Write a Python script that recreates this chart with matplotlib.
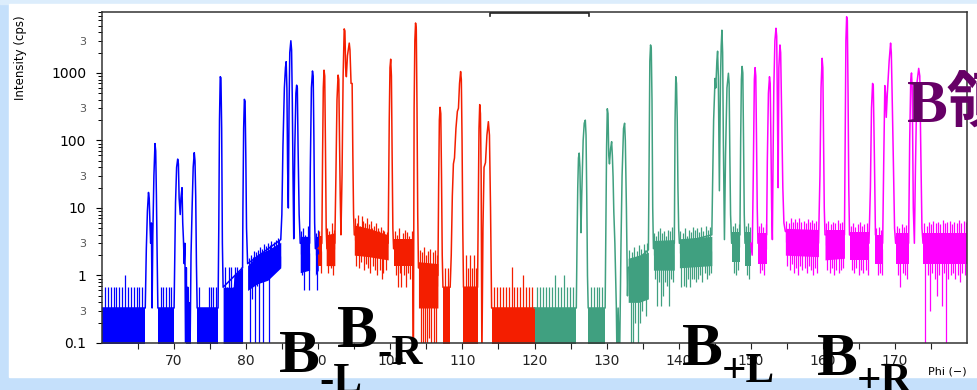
import matplotlib
matplotlib.use("Agg")
import matplotlib.pyplot as plt
from matplotlib.ticker import FixedLocator, FuncFormatter, LogLocator
from matplotlib.patches import Rectangle
from matplotlib.lines import Line2D
import numpy as np

W, H = 978, 390   # output size in pixels

# ---- data: (phi, cps) vertices of the peak traces ----
blue_trace = [
    (60.0, 0.33), (66.0, 0.33), (66.15, 2.5), (66.3, 9), (66.45, 17), (66.55, 14), (66.65, 6), (66.75, 3),
    (66.85, 6), (66.95, 0.33), (67.05, 4), (67.2, 30), (67.35, 90), (67.45, 70), (67.55, 15), (67.65, 2),
    (67.75, 0.33), (70.0, 0.33), (70.1, 2), (70.2, 12), (70.35, 40), (70.5, 53), (70.6, 45), (70.7, 14),
    (70.85, 8), (70.95, 14), (71.1, 20), (71.2, 6), (71.3, 3.4), (71.4, 1.5), (71.5, 3), (71.6, 0.05),
    (71.7, 1.3), (71.8, 0.05), (71.9, 0.67), (72.0, 0.05), (72.2, 0.05), (72.35, 2), (72.5, 10), (72.65, 40),
    (72.8, 66), (72.9, 50), (73.0, 15), (73.1, 1.5), (73.2, 0.33), (76.1, 0.33), (76.2, 5), (76.3, 200),
    (76.4, 880), (76.5, 850), (76.6, 150), (76.7, 3), (76.8, 0.67), (79.5, 1.3), (79.55, 10), (79.65, 150),
    (79.75, 407), (79.85, 380), (79.95, 60), (80.05, 5), (80.2, 1.5), (84.8, 3.4), (84.95, 8), (85.1, 80),
    (85.3, 600), (85.45, 1200), (85.55, 1470), (85.65, 600), (85.75, 40), (85.85, 10), (85.95, 300),
    (86.05, 2000), (86.2, 3000), (86.3, 2200), (86.4, 400), (86.5, 30), (86.6, 3.5), (86.75, 80), (86.9, 500),
    (87.0, 660), (87.1, 600), (87.2, 80), (87.35, 8), (87.5, 3), (88.8, 3), (88.9, 40), (89.05, 600),
    (89.2, 1070), (89.3, 900), (89.4, 100), (89.5, 6), (89.6, 2.5), (90.0, 2.5),
]
red_trace = [
    (90.0, 2.5), (90.5, 3), (90.6, 60), (90.7, 600), (90.8, 1100), (90.9, 900), (91.0, 80), (91.1, 5),
    (91.2, 2.5), (92.3, 3), (92.45, 30), (92.6, 400), (92.75, 930), (92.85, 800), (92.95, 100), (93.05, 15),
    (93.15, 4), (93.3, 30), (93.45, 900), (93.6, 4500), (93.7, 4200), (93.8, 1200), (93.9, 880), (94.05, 1800),
    (94.3, 2770), (94.4, 2200), (94.55, 700), (94.7, 700), (94.8, 60), (94.9, 8), (95.0, 4), (99.7, 3),
    (99.85, 200), (99.95, 1200), (100.05, 1600), (100.15, 900), (100.25, 60), (100.35, 5), (100.45, 2.5),
    (103.1, 2), (103.2, 0.05), (103.3, 300), (103.4, 3000), (103.5, 5500), (103.6, 4500), (103.7, 300),
    (103.8, 8), (103.9, 1.3), (106.6, 1.0), (106.7, 20), (106.8, 200), (106.9, 310), (107.0, 250),
    (107.1, 30), (107.2, 2), (107.3, 0.67), (108.3, 0.67), (108.45, 2), (108.6, 15), (108.75, 45),
    (108.9, 55), (109.1, 150), (109.3, 270), (109.45, 300), (109.6, 700), (109.75, 1050), (109.85, 800),
    (109.95, 100), (110.05, 5), (110.15, 0.67), (112.1, 0.67), (112.2, 10), (112.3, 150), (112.4, 340),
    (112.5, 250), (112.6, 30), (112.7, 0.05), (112.85, 5), (113.0, 40), (113.2, 47), (113.4, 120),
    (113.6, 190), (113.75, 120), (113.9, 10), (114.05, 0.33), (120.0, 0.33),
]
teal_trace = [
    (120.0, 0.33), (125.8, 0.33), (125.9, 3), (126.0, 20), (126.1, 55), (126.2, 65), (126.3, 40),
    (126.45, 4.3), (126.55, 15), (126.75, 100), (126.9, 180), (127.05, 200), (127.15, 120), (127.25, 15),
    (127.35, 1), (127.45, 0.33), (129.8, 0.33), (129.9, 5), (130.0, 80), (130.1, 295), (130.2, 250),
    (130.3, 60), (130.4, 45), (130.55, 75), (130.7, 96), (130.8, 60), (130.9, 29), (131.0, 9), (131.15, 3),
    (131.35, 0.35), (131.45, 0.05), (131.6, 0.33), (131.8, 0.05), (132.0, 3), (132.15, 30), (132.35, 150),
    (132.5, 180), (132.6, 100), (132.75, 10), (132.9, 0.5), (133.0, 1.3), (135.8, 2.4), (135.9, 50),
    (136.0, 1500), (136.1, 2600), (136.2, 2300), (136.3, 400), (136.4, 10), (136.5, 2.5), (139.4, 3),
    (139.5, 200), (139.6, 880), (139.7, 700), (139.8, 200), (139.9, 20), (140.0, 5), (140.1, 3), (144.6, 4),
    (144.7, 20), (144.85, 200), (145.05, 830), (145.15, 600), (145.3, 1500), (145.4, 2100), (145.5, 900),
    (145.65, 18), (145.8, 800), (145.9, 2500), (146.0, 4300), (146.1, 2000), (146.2, 100), (146.35, 3.4),
    (146.5, 60), (146.7, 600), (146.9, 990), (147.0, 700), (147.1, 60), (147.2, 8), (147.35, 3), (148.5, 4),
    (148.6, 100), (148.7, 800), (148.8, 1250), (148.9, 1000), (149.0, 100), (149.1, 8), (149.2, 3), (150.0, 3),
]
magenta_trace = [
    (150.0, 3), (150.2, 2), (150.35, 30), (150.5, 800), (150.6, 1200), (150.7, 900), (150.8, 100),
    (150.9, 10), (151.0, 3), (152.2, 4), (152.3, 50), (152.45, 500), (152.6, 880), (152.7, 700), (152.8, 100),
    (152.9, 10), (153.0, 3.4), (153.1, 60), (153.2, 600), (153.35, 3000), (153.5, 4600), (153.6, 3500),
    (153.7, 300), (153.8, 20), (153.9, 1200), (154.05, 2600), (154.15, 2000), (154.3, 200), (154.45, 20),
    (154.6, 6), (154.8, 4.5), (159.4, 3), (159.6, 30), (159.75, 600), (159.9, 1650), (160.0, 1200),
    (160.1, 100), (160.2, 10), (160.3, 4), (163.0, 4), (163.1, 100), (163.2, 3000), (163.3, 6800),
    (163.4, 6000), (163.5, 500), (163.6, 20), (163.7, 4), (166.4, 3), (166.6, 20), (166.75, 300), (166.9, 700),
    (167.0, 650), (167.15, 60), (167.3, 4), (168.3, 3), (168.45, 50), (168.6, 650), (168.7, 500), (168.8, 220),
    (168.95, 500), (169.2, 1500), (169.4, 2770), (169.5, 2000), (169.65, 300), (169.8, 40), (169.95, 5),
    (170.1, 3), (171.9, 3), (172.05, 100), (172.2, 800), (172.3, 1000), (172.4, 600), (172.55, 10), (172.7, 3),
    (172.85, 40), (173.05, 700), (173.3, 1170), (173.45, 900), (173.6, 60), (173.75, 5), (173.9, 3), (180.0, 3),
]

# background noise bands: rows of (phi, low cps, high cps)
blue_bands = [
    [(60.0, 0.05, 0.33), (66.0, 0.05, 0.33)],
    [(67.75, 0.05, 0.33), (70.0, 0.05, 0.33)],
    [(71.6, 0.05, 0.4), (72.3, 0.05, 0.4)],
    [(73.2, 0.05, 0.33), (76.1, 0.05, 0.33)],
    [(76.8, 0.05, 0.67), (78.2, 0.05, 0.67), (78.3, 0.05, 1.0), (79.5, 0.05, 1.3)],
    [(80.2, 0.6, 1.4), (81.5, 0.75, 2.0), (83.0, 0.85, 2.4), (84.8, 1.3, 3.1)],
    [(87.5, 1.1, 3.8), (88.8, 1.2, 3.8)],
    [(89.6, 1.0, 3.8), (90.0, 1.2, 3.8)],
]
red_bands = [
    [(90.0, 1.4, 3.8), (90.5, 1.4, 3.8)],
    [(91.1, 1.4, 4.0), (92.3, 1.4, 4.3)],
    [(95.0, 2.0, 5.6), (97.0, 1.9, 5.0), (99.7, 1.7, 4.0)],
    [(100.45, 1.4, 3.5), (103.1, 1.4, 3.5)],
    [(103.9, 0.33, 1.6), (106.6, 0.33, 1.5)],
    [(107.3, 0.05, 0.67), (108.3, 0.05, 0.67)],
    [(110.15, 0.05, 0.67), (112.1, 0.05, 0.67)],
    [(114.05, 0.05, 0.33), (120.0, 0.05, 0.33)],
]
teal_bands = [
    [(120.0, 0.05, 0.33), (125.8, 0.05, 0.33)],
    [(127.45, 0.05, 0.33), (129.8, 0.05, 0.33)],
    [(133.0, 0.4, 1.8), (134.5, 0.4, 2.0), (135.8, 0.45, 2.2)],
    [(136.5, 1.2, 3.3), (139.4, 1.2, 3.4)],
    [(140.1, 1.3, 3.5), (144.6, 1.4, 3.8)],
    [(147.35, 1.6, 4.4), (148.5, 1.6, 4.4)],
    [(149.2, 1.4, 4.4), (150.0, 1.4, 4.4)],
]
magenta_bands = [
    [(151.0, 1.5, 4.2), (152.2, 1.5, 4.2)],
    [(154.8, 2.0, 5.0), (159.4, 1.9, 4.8)],
    [(160.3, 1.7, 4.8), (163.0, 1.8, 4.8)],
    [(163.7, 1.7, 4.4), (166.4, 1.7, 4.4)],
    [(167.3, 1.5, 4.0), (168.3, 1.5, 4.0)],
    [(170.1, 1.5, 4.3), (171.9, 1.5, 4.3)],
    [(173.9, 1.5, 4.3), (180.0, 1.5, 4.3)],
]

# noise spike tips inside each band (cps), in order along the band
blue_noise = [
    [0.67, 0.67, 0.67, 0.67, 0.67, 0.67, 0.67, 1.0, 0.67, 0.67, 0.67, 0.67, 0.67, 0.67],
    [0.67, 0.67, 0.67, 0.67, 0.67],
    [],
    [0.67, 0.33, 0.33, 0.33, 0.67, 0.67, 0.67, 0.67],
    [1.35, 0.67, 1.35, 1.35, 0.67, 1.35, 1.35, 1.0, 1.35],
    [1.8, 0.05, 2.0, 0.45, 1.9, 2.3, 0.05, 2.2, 0.7, 2.4, 0.05, 2.6, 0.8, 2.5, 0.05, 2.9, 0.9, 2.7, 1.0,
     3.0, 0.05, 2.8, 3.2, 1.2, 3.1, 1.3, 3.4, 1.2, 3.6, 3.3, 1.4],
    [4.5, 1.0, 5, 0.6, 4, 1.2, 5.5, 0.6],
    [4.2, 0.6, 4.8],
]
red_noise = [
    [4.5, 1.1],
    [5, 1.1, 4.5, 1.3, 6, 1.0, 4.8],
    [7, 1.4, 6, 8, 1.3, 5.5, 1.6, 7.5, 6.5, 1.2, 6, 1.5, 5, 7, 1.3, 5.8, 1.1, 6.5, 5, 1.4, 5.5, 1.2, 6,
     1.0, 5, 4.5, 1.2, 5.2, 0.9, 4.8, 1.1, 4.5, 4, 1.2, 4.4],
    [4.5, 1.0, 4, 0.67, 5, 1.1, 0.67, 4.2, 1.0, 4.8, 0.67, 4.4, 1.1, 3.8, 0.9, 4.5],
    [2.4, 0.05, 2.2, 0.1, 2.6, 0.05, 2.0, 0.05, 2.3, 0.12, 2.5, 0.05, 2.2, 0.05, 2.4, 0.1, 2.0],
    [1.3, 0.67, 1.3],
    [2.0, 1.3, 2.0, 1.3, 2.0, 1.3],
    [0.67, 0.67, 0.67, 0.67, 0.67, 0.67, 1.35, 0.67, 0.67, 0.67, 1.0, 0.67, 0.67, 0.67],
]
teal_noise = [
    [0.67, 0.67, 0.67, 0.67, 0.67, 0.67, 1.0, 0.67, 0.67, 1.0, 0.67, 0.67, 0.67],
    [0.67, 0.67, 0.67, 0.67, 0.67],
    [2.4, 0.05, 2.2, 0.05, 2.6, 0.2, 2.3, 0.05, 2.8, 0.2, 2.5, 0.3, 2.9, 2.4, 0.25, 3.0],
    [4.2, 0.9, 3.8, 0.35, 4.5, 0.8, 5, 0.35, 4.2, 0.5, 4.6, 0.8, 3.9, 0.7, 4.8, 0.35, 4.5, 0.9, 5.2, 0.8],
    [4.5, 0.67, 4.2, 0.7, 5, 0.67, 3.9, 0.9, 4.8, 0.67, 4.4, 0.9, 5.3, 0.9, 4.7, 0.8, 5, 0.9, 4.4, 1.0,
     5.2, 0.8, 4.6, 1.1, 5.4, 0.9, 4.8, 1.0, 5.2, 1.1],
    [5.5, 1.1, 6, 1.0, 5, 1.2, 5.8],
    [5.5, 1.0, 6, 0.9, 5.2],
]
magenta_noise = [
    [5.5, 1.1, 6, 1.2, 5.3, 1.0, 5.8],
    [6.5, 1.4, 6, 1.2, 7, 1.5, 6.3, 1.1, 6.8, 1.3, 6.1, 1.0, 7, 1.4, 6.3, 1.2, 6.5, 1.3, 6, 1.1, 6.8,
     1.4, 6.2, 1.2, 6.6, 1.0, 5.9, 1.3, 6.4, 1.1],
    [6, 1.2, 6.5, 1.1, 5.7, 1.3, 6.3, 1.0, 6, 1.2, 6.7, 1.1, 5.9, 1.2, 6.3, 1.3],
    [5.5, 1.2, 6, 1.1, 5.3, 1.3, 5.7, 1.0, 6.1, 1.2, 5.4, 1.1, 5.8, 1.2, 6, 1.0],
    [5, 1.0, 5.3, 1.1, 4.8, 1.0],
    [5.5, 1.0, 5.1, 0.68, 5.7, 1.1, 5.3, 1.0, 5.6, 0.9],
    [6, 0.05, 5.5, 1.0, 6.3, 0.3, 5.7, 1.1, 6.5, 0.9, 5.9, 0.5, 6.3, 1.0, 5.7, 0.35, 6.7, 1.1, 6, 0.05,
     6.1, 0.9, 6.5, 1.0, 5.8, 1.1, 6.3, 0.9, 6, 1.0, 6.7, 0.8, 5.9, 1.1, 6.4, 1.0, 6.1],
]

x_ticks = [70, 80, 90, 100, 110, 120, 130, 140, 150, 160, 170]
x_minor = [65, 75, 85, 95, 105, 115, 125, 135, 145, 155, 165, 175]

SEGMENTS = [
    (blue_trace, blue_bands, blue_noise, "#0000ff"),
    (red_trace, red_bands, red_noise, "#f41e00"),
    (teal_trace, teal_bands, teal_noise, "#40a080"),
    (magenta_trace, magenta_bands, magenta_noise, "#ff00ff"),
]


def fx(px):
    return px / W


def fy(py):
    return 1 - py / H


fig = plt.figure(figsize=(W / 100, H / 100), dpi=100, facecolor="#c5e0fb")
fig.patches.append(Rectangle((0, fy(4)), 1, 4 / H, transform=fig.transFigure,
                             color="#dcedfc", zorder=-2))
fig.patches.append(Rectangle((fx(9), fy(377)), 1 - fx(9), 373 / H, transform=fig.transFigure,
                             color="white", zorder=-1))

ax = fig.add_axes([fx(102), fy(343), fx(967 - 102), (343 - 12) / H])
ax.set_yscale("log")

for trace, bands, noise, color in SEGMENTS:
    for band, tips in zip(bands, noise):
        b = np.array(band)
        ax.fill_between(b[:, 0], b[:, 1], b[:, 2], color=color, lw=0)
        if not tips:
            continue
        # spread the spikes evenly across the band, each from band centre to its tip
        xs = np.linspace(b[0, 0], b[-1, 0], len(tips) + 2)[1:-1]
        mid = np.sqrt(np.interp(xs, b[:, 0], b[:, 1]) * np.interp(xs, b[:, 0], b[:, 2]))
        tips = np.array(tips, dtype=float)
        ax.vlines(xs, np.minimum(tips, mid), np.maximum(tips, mid), color=color, lw=0.9)
    t = np.array(trace)
    ax.plot(t[:, 0], t[:, 1], color=color, lw=1.1)

ax.set_xlim(60, 180)
ax.set_ylim(0.1, 8000)

# ticks
ax.xaxis.set_major_locator(FixedLocator(x_ticks))
ax.xaxis.set_minor_locator(FixedLocator(x_minor))
ax.yaxis.set_major_locator(LogLocator(base=10, numticks=12))
ax.yaxis.set_minor_locator(LogLocator(base=10, subs=np.arange(2, 10), numticks=12))
ax.yaxis.set_major_formatter(FuncFormatter(lambda v, p: f"{v:g}"))


def minor_label(v, p):
    m = v / 10 ** np.floor(np.log10(v) + 1e-9)
    return "3" if abs(m - 3) < 0.01 else ""


ax.yaxis.set_minor_formatter(FuncFormatter(minor_label))
ax.tick_params(axis="x", which="both", direction="out", length=4, width=0.8,
               labelsize=10, pad=4, colors="#222")
ax.tick_params(axis="y", which="major", direction="out", length=4.3, width=0.8,
               labelsize=10, pad=7)
ax.tick_params(axis="y", which="minor", direction="out", length=2.9, width=0.7,
               labelsize=8, pad=8.5, labelcolor="#555")
for s in ax.spines.values():
    s.set_linewidth(1.1)
    s.set_color("#333")

# axis titles
fig.text(fx(21), fy(58), "Intensity (cps)", rotation=90, ha="center", va="center", fontsize=8.5)
fig.text(fx(928), fy(371), "Phi (−)", ha="left", va="center", fontsize=8)

# clipped legend box at the top
fig.add_artist(Line2D([fx(490), fx(490), fx(589), fx(589)], [fy(16), fy(12.5), fy(12.5), fy(16)],
                      transform=fig.transFigure, color="#222", lw=1.2))

# big branch labels
serif = dict(family="Liberation Serif", weight="bold", ha="left", va="baseline", zorder=5)
fig.text(fx(279), fy(372), "B", fontsize=44, **serif)
fig.text(fx(319), fy(392), "-L", fontsize=31, **serif)
fig.text(fx(337), fy(347), "B", fontsize=44, **serif)
fig.text(fx(377), fy(364), "-R", fontsize=31, **serif)
fig.text(fx(682), fy(365), "B", fontsize=44, **serif)
fig.text(fx(722), fy(382), "+L", fontsize=31, **serif)
fig.text(fx(817), fy(375), "B", fontsize=44, **serif)
fig.text(fx(857), fy(392), "+R", fontsize=31, **serif)
fig.text(fx(907), fy(123), "B領", fontsize=44, color="#660066", ha="left", va="baseline",
         weight="bold", family=["Liberation Serif", "Noto Sans CJK JP"], zorder=5)

fig.savefig("out.png", dpi=100, facecolor=fig.get_facecolor())
